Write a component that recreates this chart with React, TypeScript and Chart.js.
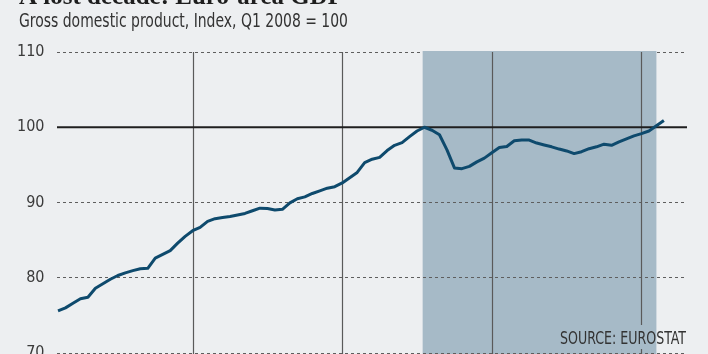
import React, { useEffect, useRef } from "react";
import { Chart, registerables } from "chart.js";

Chart.register(...registerables);

// ---- Text ----
const TITLE = "A lost decade: Euro-area GDP";
const SUBTITLE = "Gross domestic product, Index, Q1 2008 = 100";
const SOURCE = "SOURCE: EUROSTAT";

// ---- Data: quarterly euro-area GDP index (Q1 2008 = 100), Q4 1995 .. Q1 2016 ----
const FIRST_YEAR = 1995;
const FIRST_QUARTER = 4;
const gdpIndex = [
  75.6, 76.0, 76.6, 77.2, 77.4, 78.6, 79.2, 79.8, 80.3, 80.65,
  80.95, 81.2, 81.25, 82.6, 83.1, 83.6, 84.6, 85.5, 86.25, 86.7,
  87.5, 87.85, 88.0, 88.15, 88.35, 88.55, 88.9, 89.25, 89.2, 89.0,
  89.1, 89.95, 90.5, 90.75, 91.2, 91.55, 91.9, 92.1, 92.6, 93.3,
  94.0, 95.3, 95.75, 96.0, 96.9, 97.6, 97.95, 98.75, 99.5, 100.0,
  99.6, 99.0, 97.0, 94.6, 94.5, 94.8, 95.4, 95.9, 96.6, 97.3,
  97.45, 98.2, 98.3, 98.3, 97.9, 97.65, 97.4, 97.1, 96.85, 96.5,
  96.75, 97.15, 97.4, 97.75, 97.6, 98.05, 98.45, 98.85, 99.15, 99.5,
  100.2, 100.9,
];
const quarterLabels = gdpIndex.map((_, i) => {
  const q = FIRST_QUARTER - 1 + i;
  return `Q${(q % 4) + 1} ${FIRST_YEAR + Math.floor(q / 4)}`;
});

const yTicks = [70, 80, 90, 100, 110];
const REFERENCE_VALUE = 100;
const verticalGridAt = [18, 38, 58, 78]; // quarter positions of vertical rules
const shadeFrom = 48.75;
const shadeTo = 80;

// ---- Styles ----
const BG = "#edeff1";
const SHADE = "#a6bac7";
const LINE = "#0e4a6d";
const GRID = "#5e5e5e";
const VRULE = "#5a5a5a";
const NARROW = '"Liberation Sans Narrow", "DejaVu Sans Condensed", "Roboto Condensed", sans-serif';
const SERIF = '"Liberation Serif", "DejaVu Serif", serif';

const decorPlugin = {
  id: "decor",
  beforeDraw(chart: any) {
    const { ctx, width, height } = chart;
    ctx.save();
    ctx.fillStyle = BG;
    ctx.fillRect(0, 0, width, height);
    ctx.restore();
  },
  beforeDatasetsDraw(chart: any) {
    const { ctx, chartArea: a, scales } = chart;
    const x = scales.x;
    const y = scales.y;
    const crisp = (p: number) => Math.round(p - 0.5) + 0.5;
    const hLine = (v: number) => {
      const py = crisp(y.getPixelForValue(v));
      ctx.beginPath();
      ctx.moveTo(a.left, py);
      ctx.lineTo(a.right, py);
      ctx.stroke();
    };
    ctx.save();
    // top dashed rule (under the shade)
    ctx.strokeStyle = GRID;
    ctx.lineWidth = 1;
    ctx.setLineDash([3, 3]);
    hLine(yTicks[yTicks.length - 1]);
    ctx.setLineDash([]);

    // shaded period
    const x0 = x.getPixelForValue(shadeFrom);
    const x1 = x.getPixelForValue(shadeTo);
    ctx.fillStyle = SHADE;
    ctx.fillRect(x0, a.top - 1, x1 - x0, a.bottom - a.top + 40);

    // other dashed rules
    ctx.strokeStyle = GRID;
    ctx.setLineDash([3, 3]);
    yTicks.slice(0, -1).forEach((v) => {
      if (v !== REFERENCE_VALUE) hLine(v);
    });
    ctx.setLineDash([]);

    // vertical rules (interrupted behind source note)
    ctx.font = `17px ${NARROW}`;
    const srcW = Math.min(ctx.measureText(SOURCE).width, 126);
    const srcRight = 686;
    const srcLeft = srcRight - srcW;
    ctx.strokeStyle = VRULE;
    ctx.lineWidth = 1.2;
    verticalGridAt.forEach((q) => {
      const px = Math.round(x.getPixelForValue(q)) + 0.5;
      ctx.beginPath();
      if (px > srcLeft - 4 && px < srcRight + 4) {
        ctx.moveTo(px, a.top);
        ctx.lineTo(px, 325);
        ctx.moveTo(px, 349);
        ctx.lineTo(px, a.bottom + 30);
      } else {
        ctx.moveTo(px, a.top);
        ctx.lineTo(px, a.bottom + 30);
      }
      ctx.stroke();
    });

    // reference line at 100
    const ry = y.getPixelForValue(REFERENCE_VALUE);
    ctx.strokeStyle = "#1f1f1f";
    ctx.lineWidth = 2;
    ctx.beginPath();
    ctx.moveTo(a.left, ry);
    ctx.lineTo(a.right + 3, ry);
    ctx.stroke();
    ctx.restore();
  },
  afterDraw(chart: any) {
    const { ctx } = chart;
    ctx.save();
    ctx.textBaseline = "alphabetic";
    ctx.textAlign = "left";
    ctx.fillStyle = "#1e1e1e";
    ctx.font = `bold 25px ${SERIF}`;
    ctx.fillText(TITLE, 19, 3.5, 329);
    ctx.fillStyle = "#333333";
    ctx.font = `19px ${NARROW}`;
    ctx.fillText(SUBTITLE, 19, 26.5, 329);
    ctx.font = `17px ${NARROW}`;
    ctx.textAlign = "right";
    ctx.fillText(SOURCE, 686, 343.5, 126);
    ctx.restore();
  },
};

export default function App() {
  const canvasRef = useRef<HTMLCanvasElement | null>(null);

  useEffect(() => {
    if (!canvasRef.current) return;
    const chart = new Chart(canvasRef.current, {
      type: "line",
      data: {
        labels: quarterLabels,
        datasets: [
          {
            label: "GDP index",
            data: gdpIndex.map((v, i) => ({ x: i, y: v })),
            borderColor: LINE,
            borderWidth: 3,
            pointRadius: 0,
            tension: 0,
            borderJoinStyle: "round",
            borderCapStyle: "butt",
            fill: false,
          },
        ],
      },
      options: {
        animation: false,
        responsive: true,
        maintainAspectRatio: false,
        layout: { padding: { top: 52, right: 24, bottom: 27, left: 0 } },
        plugins: {
          legend: { display: false },
          tooltip: { enabled: false },
          title: { display: false },
        },
        scales: {
          x: { type: "linear", display: false, min: -0.134, max: 83.69 },
          y: {
            min: yTicks[0],
            max: yTicks[yTicks.length - 1],
            ticks: {
              stepSize: 10,
              padding: 12.5,
              color: "#3a3a3a",
              font: { family: NARROW, size: 16 },
            },
            grid: { display: false, drawTicks: false },
            border: { display: false },
            afterFit: (s: any) => {
              s.width = 57;
            },
          },
        },
      } as any,
      plugins: [decorPlugin],
    });
    return () => chart.destroy();
  }, []);

  return (
    <div style={{ position: "fixed", left: 0, top: 0, width: 708, height: 380, background: BG }}>
      <canvas ref={canvasRef} />
    </div>
  );
}
